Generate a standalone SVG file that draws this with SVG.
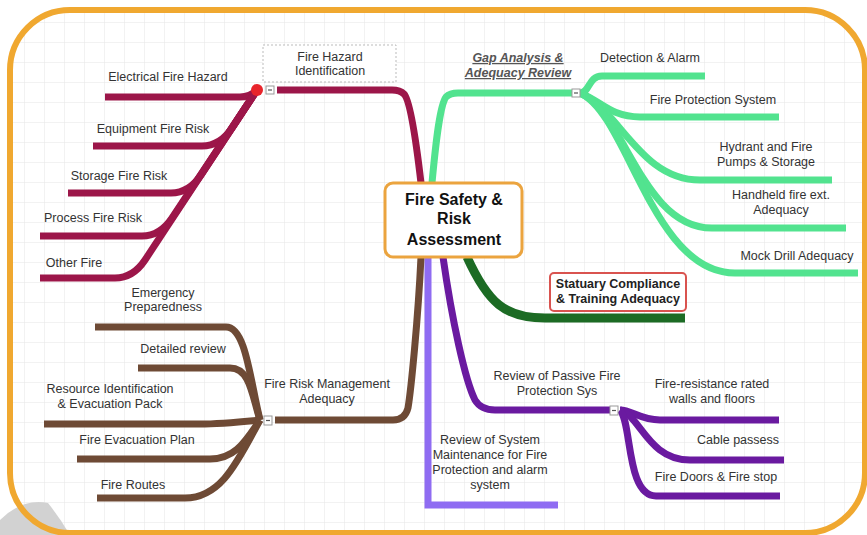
<svg xmlns="http://www.w3.org/2000/svg" width="867" height="535" viewBox="0 0 867 535">
<defs>
<pattern id="grid" width="20" height="20" patternUnits="userSpaceOnUse" x="5" y="3">
<rect width="20" height="20" fill="#ffffff"/>
<path d="M20 0V20M0 20H20" stroke="#e6e6e6" stroke-width="1" fill="none"/>
</pattern>
<style>
.t{font-family:"Liberation Sans",Arial,sans-serif;font-size:12.5px;fill:#333;text-anchor:middle}
.br{fill:none;stroke-width:7;stroke-linecap:butt;stroke-linejoin:round}
.red{stroke:#9c1649}
.grn{stroke:#52e38f}
.dgr{stroke:#1c6b24}
.pur{stroke:#6a1aa0}
.lpu{stroke:#8f6cf2}
.brn{stroke:#6e4a35}
.mk{fill:#fff;stroke:#999;stroke-width:1}
</style>
</defs>
<rect width="867" height="535" fill="#ffffff"/>
<rect x="10" y="10" width="855" height="523" rx="60" fill="url(#grid)"/>
<path d="M0 520 Q22 498 48 503 Q60 518 70 535 L0 535 Z" fill="#d2d2d2"/>
<rect x="10" y="10" width="855" height="523" rx="60" fill="none" stroke="#f0a830" stroke-width="6"/>

<g id="connectors">
<!-- main branches -->
<path class="br red" d="M421 183 C416 140 410 100 404 94 Q400 90 392 90 H277"/>
<path class="br grn" d="M432 183 C436 140 440 105 446 97 Q450 93 458 93 H573"/>
<path class="br dgr" style="stroke-width:9" d="M467 257 C488 303 505 318 545 318 H685"/>
<path class="br pur" d="M443 257 C452 320 465 380 475 400 Q481 410 495 410 H610"/>
<path class="br lpu" d="M428 257 V505 H558" style="stroke-linejoin:miter"/>
<path class="br brn" d="M421 257 C418 320 411 390 408 408 Q405 420 393 420 H275"/>
<!-- red children -->
<path class="br red" d="M257 90 Q250 97 240 97 H105"/>
<path class="br red" d="M257 90 L232 128 Q220 146 202 146 H93"/>
<path class="br red" d="M257 90 L201 175 Q189 193 171 193 H68"/>
<path class="br red" d="M257 90 L172 218 Q160 236 142 236 H40"/>
<path class="br red" d="M257 90 L145 260 Q133 278 115 278 H40"/>
<!-- green children -->
<path class="br grn" d="M580 93 C590 93 588 76 602 76 H705"/>
<path class="br grn" d="M580 93 C600 100 610 117 640 117 H779"/>
<path class="br grn" d="M580 93 C620 110 640 180 700 180 H832"/>
<path class="br grn" d="M580 93 C625 112 642 228 712 228 H846"/>
<path class="br grn" d="M580 93 C628 114 652 273 735 273 H858"/>
<!-- purple children -->
<path class="br pur" d="M620 410 C632 410 640 420 660 420 H779"/>
<path class="br pur" d="M620 410 C640 415 648 460 690 460 H784"/>
<path class="br pur" d="M620 410 C632 422 626 496 656 496 H780"/>
<!-- brown children -->
<path class="br brn" d="M260 420 C250 380 246 327 226 327 H95"/>
<path class="br brn" d="M260 420 C252 395 250 368 230 368 H138"/>
<path class="br brn" d="M260 420 C240 422 220 424 200 424 H44"/>
<path class="br brn" d="M260 420 C246 440 236 459 210 459 H77"/>
<path class="br brn" d="M260 420 C238 460 222 498 185 498 H97"/>
<!-- collapse markers -->
<circle cx="257" cy="90" r="6" fill="#e8242b"/>
<rect class="mk" x="266" y="86" width="8" height="8"/><path d="M268 90H272" stroke="#555" stroke-width="1.2"/>
<rect class="mk" x="572" y="89" width="8" height="8"/><path d="M574 93H578" stroke="#555" stroke-width="1.2"/>
<rect class="mk" x="610" y="406" width="8" height="9"/><path d="M612 410.5H616" stroke="#555" stroke-width="1.2"/>
<rect class="mk" x="264" y="416" width="8" height="9"/><path d="M266 420.5H270" stroke="#555" stroke-width="1.2"/>
</g>

<g id="center">
<rect x="385" y="183" width="137" height="74" rx="8" fill="#fff" stroke="#eba43f" stroke-width="3"/>
<text class="t" x="454" y="205" style="font-size:16px;font-weight:bold;fill:#111">Fire Safety &amp;</text>
<text class="t" x="454" y="224" style="font-size:16px;font-weight:bold;fill:#111">Risk</text>
<text class="t" x="454" y="245" style="font-size:16px;font-weight:bold;fill:#111">Assessment</text>
</g>

<g id="fire-hazard-identification">
<rect x="263" y="45" width="133" height="37" fill="#fff" stroke="#bbb" stroke-width="1" stroke-dasharray="2,2"/>
<text class="t" x="330" y="61">Fire Hazard</text>
<text class="t" x="330" y="75">Identification</text>
</g>
<g id="electrical"><text class="t" x="168" y="81">Electrical Fire Hazard</text></g>
<g id="equipment"><text class="t" x="153" y="133">Equipment Fire Risk</text></g>
<g id="storage"><text class="t" x="119" y="180">Storage Fire Risk</text></g>
<g id="process"><text class="t" x="93" y="222">Process Fire Risk</text></g>
<g id="other"><text class="t" x="74" y="267">Other Fire</text></g>

<g id="gap-analysis">
<text class="t" x="518" y="62" style="font-weight:bold;font-style:italic;text-decoration:underline;fill:#555">Gap Analysis &amp;</text>
<text class="t" x="518" y="77" style="font-weight:bold;font-style:italic;text-decoration:underline;fill:#555">Adequacy Review</text>
</g>
<g id="detection"><text class="t" x="650" y="62">Detection &amp; Alarm</text></g>
<g id="fire-protection"><text class="t" x="713" y="104">Fire Protection System</text></g>
<g id="hydrant"><text class="t" x="766" y="151">Hydrant and Fire</text><text class="t" x="766" y="166">Pumps &amp; Storage</text></g>
<g id="handheld"><text class="t" x="781" y="199">Handheld fire ext.</text><text class="t" x="781" y="214">Adequacy</text></g>
<g id="mock-drill"><text class="t" x="797" y="260">Mock Drill Adequacy</text></g>

<g id="statuary">
<rect x="550" y="273" width="136" height="38" rx="4" fill="#fff" stroke="#d9534f" stroke-width="2"/>
<text class="t" x="618" y="288" style="font-weight:bold;fill:#222">Statuary Compliance</text>
<text class="t" x="618" y="303" style="font-weight:bold;fill:#222">&amp; Training Adequacy</text>
</g>

<g id="passive">
<text class="t" x="557" y="380">Review of Passive Fire</text>
<text class="t" x="557" y="395">Protection Sys</text>
</g>
<g id="fire-resistance"><text class="t" x="712" y="388">Fire-resistance rated</text><text class="t" x="712" y="403">walls and floors</text></g>
<g id="cable"><text class="t" x="738" y="444">Cable passess</text></g>
<g id="fire-doors"><text class="t" x="716" y="481">Fire Doors &amp; Fire stop</text></g>

<g id="system-maintenance">
<text class="t" x="490" y="444">Review of System</text>
<text class="t" x="490" y="459">Maintenance for Fire</text>
<text class="t" x="490" y="474">Protection and alarm</text>
<text class="t" x="490" y="489">system</text>
</g>

<g id="risk-management">
<text class="t" x="327" y="388">Fire Risk Management</text>
<text class="t" x="327" y="403">Adequacy</text>
</g>
<g id="emergency"><text class="t" x="163" y="297">Emergency</text><text class="t" x="163" y="311">Preparedness</text></g>
<g id="detailed"><text class="t" x="183" y="353">Detailed review</text></g>
<g id="resource"><text class="t" x="110" y="393">Resource Identification</text><text class="t" x="110" y="408">&amp; Evacuation Pack</text></g>
<g id="evacuation-plan"><text class="t" x="137" y="444">Fire Evacuation Plan</text></g>
<g id="routes"><text class="t" x="133" y="489">Fire Routes</text></g>
</svg>
